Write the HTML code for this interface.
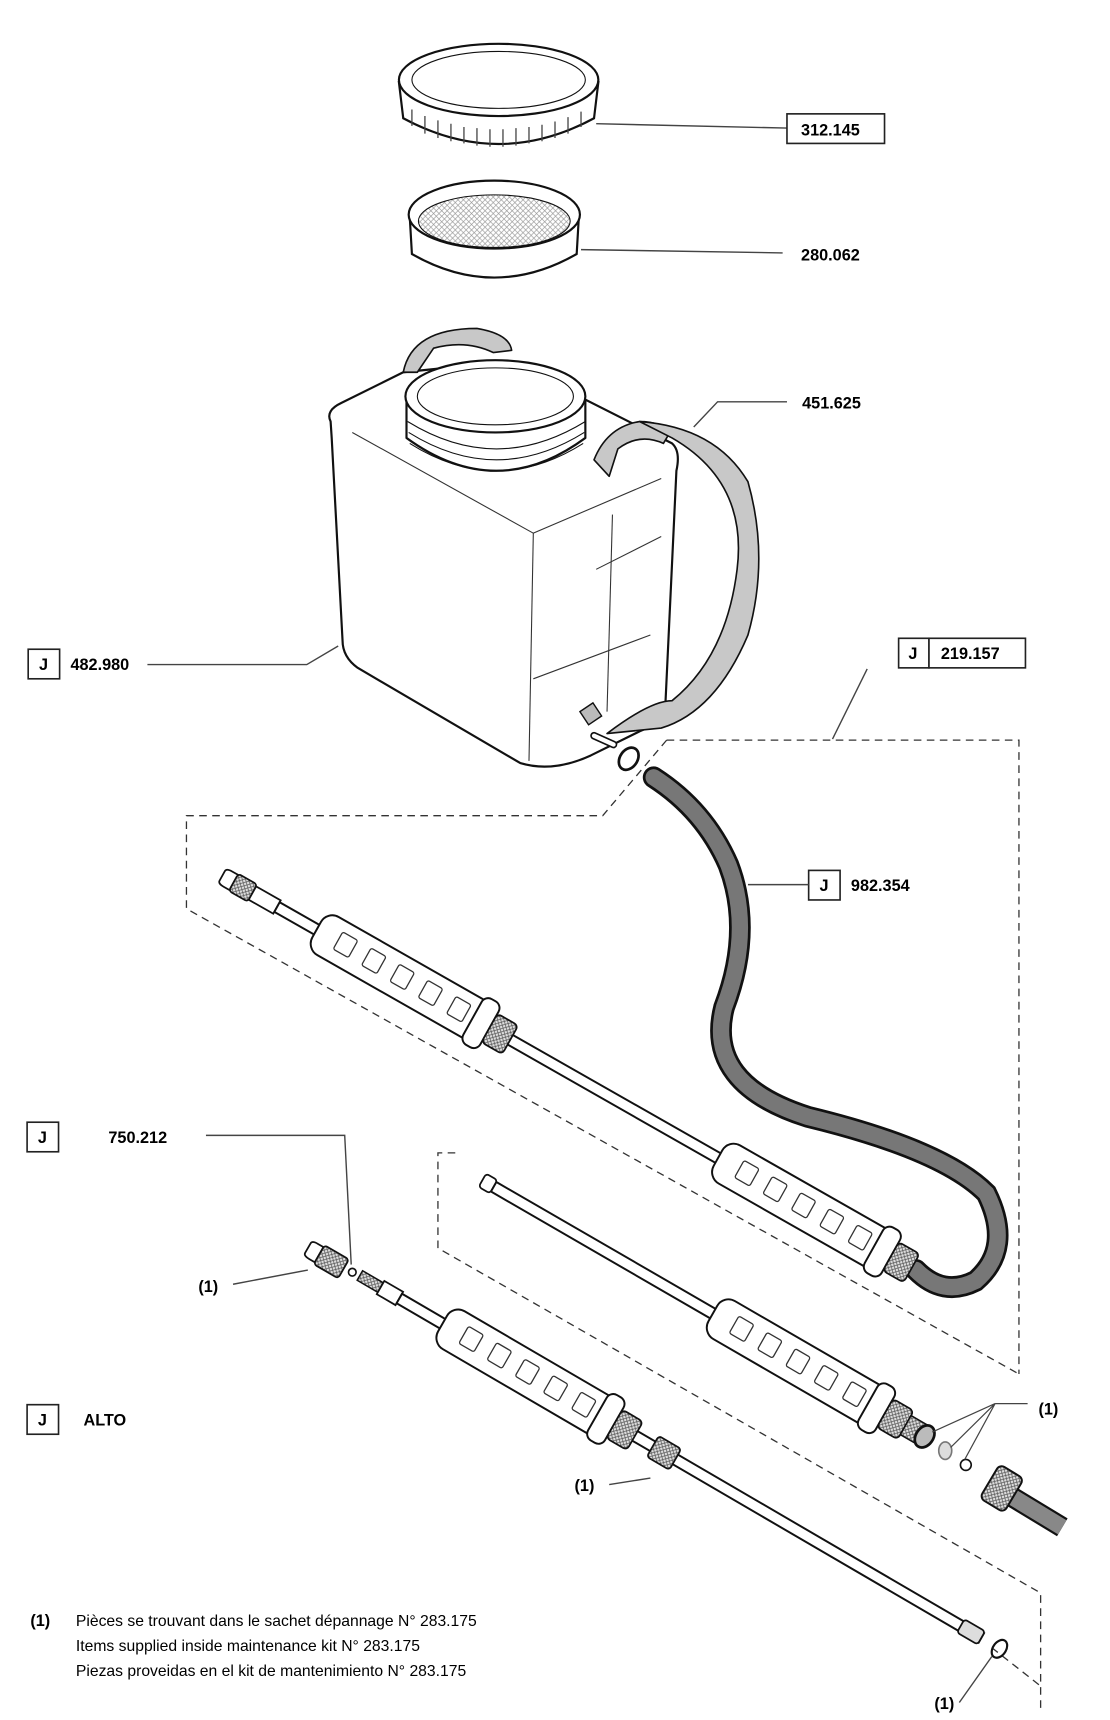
<!DOCTYPE html>
<html><head><meta charset="utf-8"><style>
html,body{margin:0;padding:0;background:#fff;}
svg{display:block;}
text{font-family:"Liberation Sans",sans-serif;}
.b{font-weight:bold;font-size:15px;}
.f{font-size:14.5px;}
</style></head><body>
<svg width="1110" height="1720" viewBox="0 0 1024 1571" preserveAspectRatio="none" xmlns="http://www.w3.org/2000/svg">
<defs>
<pattern id="mesh" width="5" height="5" patternUnits="userSpaceOnUse"><path d="M0 0L5 5M5 0L0 5" stroke="#999" stroke-width="0.6"/></pattern>
<pattern id="knurl" width="4" height="4" patternUnits="userSpaceOnUse"><rect width="4" height="4" fill="#ddd"/><path d="M0 0L4 4M4 0L0 4" stroke="#555" stroke-width="0.7"/></pattern>
<g id="grip">
<rect x="0" y="-20" width="180" height="40" rx="12" fill="#fff" stroke="#111" stroke-width="1.8"/>
<g fill="none" stroke="#333" stroke-width="1.2">
<rect x="22" y="-10" width="16" height="18" rx="2"/><rect x="52" y="-10" width="16" height="18" rx="2"/><rect x="82" y="-10" width="16" height="18" rx="2"/><rect x="112" y="-10" width="16" height="18" rx="2"/><rect x="142" y="-10" width="16" height="18" rx="2"/>
</g>
<rect x="165" y="-24" width="18" height="48" rx="7" fill="#fff" stroke="#111" stroke-width="1.8"/>
<rect x="183" y="-15" width="22" height="30" rx="4" fill="url(#knurl)" stroke="#111" stroke-width="1.6"/>
</g>
</defs>

<!-- lid -->
<g stroke="#111" stroke-width="2" fill="#fff">
<path d="M368 75 L372 108 Q460 155 548 108 L552 75 Z"/>
<ellipse cx="460" cy="73" rx="92" ry="33"/>
<ellipse cx="460" cy="73" rx="80" ry="26" stroke-width="1"/>
</g>
<g stroke="#444" stroke-width="1.2">
<path d="M380 100v15M392 106v16M404 110v16M416 113v16M428 116v15M440 117v16M452 118v16M464 118v16M476 117v16M488 116v15M500 114v15M512 111v15M524 107v15M536 102v14"/>
</g>
<line x1="550" y1="113" x2="726" y2="117" stroke="#444" stroke-width="1.3"/>
<rect x="726" y="104" width="90" height="27" fill="#fff" stroke="#222" stroke-width="1.5"/>
<text x="739" y="124" class="b">312.145</text>

<!-- filter -->
<g stroke="#111" stroke-width="2">
<path d="M378 198 L380 232 Q456 275 532 232 L534 198" fill="#fff"/>
<ellipse cx="456" cy="196" rx="79" ry="31" fill="#fff"/>
<ellipse cx="456" cy="202" rx="70" ry="24" fill="url(#mesh)" stroke-width="1"/>
</g>
<line x1="536" y1="228" x2="722" y2="231" stroke="#444" stroke-width="1.3"/>
<text x="739" y="238" class="b">280.062</text>

<!-- tank -->
<g stroke="#111" stroke-width="2" fill="#fff" stroke-linejoin="round">
<path d="M305 385 Q300 375 315 368 L372 340 L470 330 L620 405 Q628 412 624 430 L614 640 Q612 660 590 668 L545 690 Q510 706 480 697 L330 610 Q316 600 316 585 L306 400 Z"/>
<path d="M372 340 Q380 300 440 300 Q470 305 472 320 L455 322 Q430 310 400 318 L385 340 Z" fill="#c8c8c8" stroke-width="1.5"/>
<path d="M548 420 Q560 390 590 385 Q610 385 618 395 L612 405 Q590 395 570 410 L562 435 Z" fill="#c8c8c8" stroke-width="1.5"/>
<path d="M590 385 Q660 390 690 440 Q710 510 690 580 Q660 650 610 665 L560 670 Q600 640 620 640 Q670 600 680 520 Q690 440 620 400 Z" fill="#c8c8c8" stroke-width="1.5"/>
<path d="M375 365 L375 400 Q458 460 540 400 L540 365" />
<ellipse cx="457" cy="362" rx="83" ry="33"/>
<ellipse cx="457" cy="362" rx="72" ry="26" stroke-width="1"/>
<path d="M376 385 Q458 435 540 385" fill="none" stroke-width="1"/>
<path d="M377 395 Q458 445 539 395" fill="none" stroke-width="1"/>
<path d="M378 405 Q458 455 538 405" fill="none" stroke-width="1"/>
</g>
<g stroke="#333" stroke-width="1" fill="none">
<path d="M325 395 L492 487 L610 437"/><path d="M492 487 L488 695"/><path d="M492 620 L600 580"/><path d="M550 520 L610 490"/>
<path d="M565 470 L560 650"/>
</g>
<path d="M535 650 l12 -8 l8 12 l-12 8z" fill="#bbb" stroke="#111" stroke-width="1.3"/>
<path d="M548 672 l18 8" stroke="#111" stroke-width="7" stroke-linecap="round"/>
<path d="M548 672 l18 8" stroke="#fff" stroke-width="4" stroke-linecap="round"/>
<ellipse cx="580" cy="693" rx="8" ry="11" fill="none" stroke="#111" stroke-width="2.5" transform="rotate(35 580 693)"/>

<path d="M640 390 L662 367 L726 367" fill="none" stroke="#444" stroke-width="1.3"/>
<text x="740" y="373" class="b">451.625</text>

<rect x="26" y="593" width="29" height="27" fill="#fff" stroke="#222" stroke-width="1.5"/>
<text x="36" y="612" class="b">J</text>
<text x="65" y="612" class="b">482.980</text>
<path d="M136 607 L283 607 L312 590" fill="none" stroke="#444" stroke-width="1.3"/>

<rect x="829" y="583" width="28" height="27" fill="#fff" stroke="#222" stroke-width="1.5"/>
<text x="838" y="602" class="b">J</text>
<rect x="857" y="583" width="89" height="27" fill="#fff" stroke="#222" stroke-width="1.5"/>
<text x="868" y="602" class="b">219.157</text>
<path d="M800 611 L768 675" fill="none" stroke="#444" stroke-width="1.3"/>

<!-- dashed frames -->
<g fill="none" stroke="#333" stroke-width="1.2" stroke-dasharray="7 5">
<path d="M615 676 L940 676 L940 1255"/>
<path d="M615 676 L556 745 L172 745 L172 830 L940 1255"/>
<path d="M420 1053 L404 1053 L404 1140 L960 1455 L960 1560"/>
<path d="M915 1505 L960 1540"/>
</g>

<!-- hose -->
<path d="M603 710 Q650 740 672 790 Q695 850 668 920 Q650 990 745 1020 Q870 1050 910 1090 Q935 1140 900 1170 Q870 1185 845 1160" fill="none" stroke="#111" stroke-width="20" stroke-linecap="round"/>
<path d="M603 710 Q650 740 672 790 Q695 850 668 920 Q650 990 745 1020 Q870 1050 910 1090 Q935 1140 900 1170 Q870 1185 845 1160" fill="none" stroke="#777" stroke-width="15" stroke-linecap="round"/>
<rect x="746" y="795" width="29" height="27" fill="#fff" stroke="#222" stroke-width="1.5"/>
<text x="756" y="814" class="b">J</text>
<text x="785" y="814" class="b">982.354</text>
<line x1="690" y1="808" x2="746" y2="808" stroke="#444" stroke-width="1.3"/>

<!-- upper lance -->
<g transform="translate(205 800) rotate(29.4)">
<path d="M0 -5 Q0 -8 6 -8 L14 -8 L14 8 L6 8 Q0 8 0 5 Z" fill="#fff" stroke="#111" stroke-width="1.6"/>
<rect x="12" y="-9" width="20" height="18" rx="3" fill="url(#knurl)" stroke="#111" stroke-width="1.6"/>
<rect x="32" y="-7" width="26" height="14" fill="#fff" stroke="#111" stroke-width="1.6"/>
<rect x="58" y="-5" width="665" height="10" fill="#fff" stroke="#111" stroke-width="1.8"/>
<use href="#grip" x="100"/>
<use href="#grip" x="525"/>
</g>

<!-- middle rod -->
<g transform="translate(445 1078) rotate(29.8)">
<rect x="0" y="-7" width="12" height="14" rx="3" fill="#fff" stroke="#111" stroke-width="1.6"/>
<rect x="12" y="-5" width="240" height="10" fill="#fff" stroke="#111" stroke-width="1.8"/>
<use href="#grip" x="245"/>
<rect x="450" y="-10" width="22" height="20" fill="url(#knurl)" stroke="#111" stroke-width="1.4"/>
</g>

<!-- lower lance -->
<rect x="25" y="1025" width="29" height="27" fill="#fff" stroke="#222" stroke-width="1.5"/>
<text x="35" y="1044" class="b">J</text>
<text x="100" y="1044" class="b">750.212</text>
<path d="M190 1037 L318 1037 L324 1155" fill="none" stroke="#444" stroke-width="1.3"/>
<text x="183" y="1180" class="b">(1)</text>
<line x1="215" y1="1173" x2="284" y2="1160" stroke="#444" stroke-width="1.3"/>
<g transform="translate(284 1140) rotate(30)">
<path d="M0 -5 Q0 -8 6 -8 L12 -8 L12 8 L6 8 Q0 8 0 5Z" fill="#fff" stroke="#111" stroke-width="1.6"/>
<rect x="12" y="-10" width="26" height="20" rx="3" fill="url(#knurl)" stroke="#111" stroke-width="1.6"/>
</g>
<circle cx="325" cy="1162" r="3.5" fill="none" stroke="#111" stroke-width="1.5"/>
<g transform="translate(332 1165) rotate(30)">
<rect x="0" y="-5" width="22" height="10" fill="url(#knurl)" stroke="#111" stroke-width="1.4"/>
<rect x="22" y="-7" width="20" height="14" fill="#fff" stroke="#111" stroke-width="1.6"/>
<rect x="42" y="-5" width="620" height="10" fill="#fff" stroke="#111" stroke-width="1.8"/>
<use href="#grip" x="88"/>
<rect x="312" y="-11" width="24" height="22" rx="3" fill="url(#knurl)" stroke="#111" stroke-width="1.6"/>
<rect x="640" y="-7" width="22" height="14" rx="3" fill="#ddd" stroke="#111" stroke-width="1.6"/>
</g>
<text x="530" y="1362" class="b">(1)</text>
<line x1="562" y1="1356" x2="600" y2="1350" stroke="#444" stroke-width="1.3"/>
<ellipse cx="922" cy="1506" rx="6" ry="9" fill="none" stroke="#111" stroke-width="2" transform="rotate(35 922 1506)"/>
<text x="862" y="1561" class="b">(1)</text>
<line x1="885" y1="1555" x2="915" y2="1513" stroke="#444" stroke-width="1.3"/>

<!-- small parts -->
<ellipse cx="853" cy="1312" rx="8" ry="11" fill="#bbb" stroke="#111" stroke-width="2.5" transform="rotate(35 853 1312)"/>
<ellipse cx="872" cy="1325" rx="6" ry="8" fill="#ddd" stroke="#777" stroke-width="1.5"/>
<circle cx="891" cy="1338" r="5" fill="none" stroke="#111" stroke-width="1.5"/>
<path d="M918 1282 L948 1282 M918 1282 L860 1308 M918 1282 L877 1322 M918 1282 L890 1333" fill="none" stroke="#444" stroke-width="1.1"/>
<text x="958" y="1292" class="b">(1)</text>
<path d="M930 1365 L980 1395" stroke="#111" stroke-width="19"/>
<path d="M930 1365 L980 1395" stroke="#888" stroke-width="15"/>
<g transform="translate(925 1360) rotate(31)"><rect x="-14" y="-18" width="26" height="36" rx="5" fill="url(#knurl)" stroke="#111" stroke-width="1.8"/></g>

<rect x="25" y="1283" width="29" height="27" fill="#fff" stroke="#222" stroke-width="1.5"/>
<text x="35" y="1302" class="b">J</text>
<text x="77" y="1302" class="b">ALTO</text>

<text x="28" y="1485" class="b">(1)</text>
<text x="70" y="1485" class="f">Pièces se trouvant dans le sachet dépannage N° 283.175</text>
<text x="70" y="1508" class="f">Items supplied inside maintenance kit N° 283.175</text>
<text x="70" y="1531" class="f">Piezas proveidas en el kit de mantenimiento N° 283.175</text>
</svg>
</body></html>
